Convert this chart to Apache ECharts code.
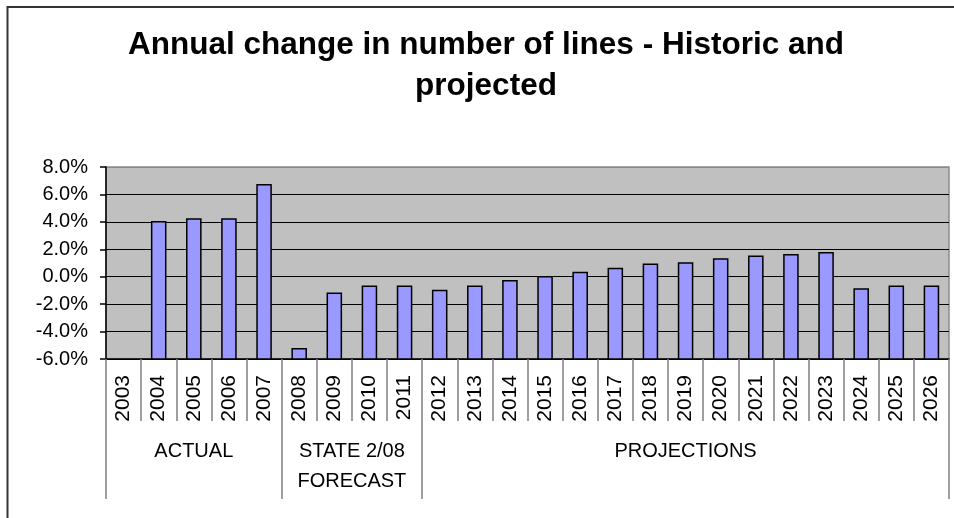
<!DOCTYPE html>
<html>
<head>
<meta charset="utf-8">
<script src="https://cdn.jsdelivr.net/npm/echarts@6/dist/echarts.min.js"></script>
<style>
  html, body { margin: 0; padding: 0; background: #fff; }
  #chart { width: 954px; height: 518px; }
</style>
</head>
<body>
<div id="chart"></div>
<script>
// Years on the category axis
var years = ['2003','2004','2005','2006','2007','2008','2009','2010','2011','2012','2013','2014',
             '2015','2016','2017','2018','2019','2020','2021','2022','2023','2024','2025','2026'];

// Annual change in number of lines, percent (no value for 2003)
var annualChange = [null, 4.0, 4.2, 4.2, 6.7, -5.25, -1.2, -0.7, -0.7, -1.0, -0.7, -0.3,
                    0.0, 0.3, 0.6, 0.9, 1.0, 1.3, 1.5, 1.6, 1.75, -0.9, -0.7, -0.7];

// Period groups under the years, with the number of years each spans
var groupNames = ['ACTUAL', 'STATE 2/08\nFORECAST', 'PROJECTIONS'];
var groupSizes = [5, 4, 15];

// Value axis ticks
var yMin = -6, yMax = 8, yStep = 2;

var FONT = '"Liberation Sans", Arial, sans-serif';

// Group boundaries and centres in category units
var groupEdges = [0], groupCentres = [];
groupSizes.forEach(function (n, i) {
  var start = groupEdges[i];
  groupEdges.push(start + n);
  groupCentres.push(start + n / 2);
});

var barData = [];
annualChange.forEach(function (v, i) {
  if (v !== null) barData.push([i, v]);
});

var chart = echarts.init(document.getElementById('chart'), null, { renderer: 'canvas' });

chart.setOption({
  animation: false,
  backgroundColor: '#ffffff',
  title: {
    text: 'Annual change in number of lines - Historic and\nprojected',
    left: 486,
    textAlign: 'center',
    top: 25,
    padding: 0,
    textStyle: {
      fontFamily: FONT,
      fontWeight: 'bold',
      fontSize: 31.5,
      lineHeight: 40.6,
      color: '#000'
    }
  },
  graphic: [{
    type: 'polyline',
    shape: { points: [[7.5, 518], [7.5, 7], [954, 7]] },
    style: { stroke: '#333', lineWidth: 2, fill: null },
    silent: true
  }],
  grid: {
    left: 106,
    right: 5,
    top: 167,
    bottom: 159,
    show: true,
    backgroundColor: '#C0C0C0',
    borderColor: '#8a8a8a',
    borderWidth: 1.5,
    containLabel: false,
    outerBoundsMode: 'none'
  },
  xAxis: [{
    type: 'category',
    data: years,
    position: 'bottom',
    boundaryGap: true,
    axisLine: { show: true, onZero: false, lineStyle: { color: '#000', width: 1.5 } },
    axisTick: { show: true, interval: 0, length: 62, lineStyle: { color: '#808080', width: 1.5 } },
    axisLabel: {
      interval: 0,
      rotate: 90,
      margin: 16,
      fontFamily: FONT,
      fontSize: 21,
      color: '#000'
    },
    splitLine: { show: false }
  }, {
    type: 'value',
    min: 0,
    max: years.length,
    position: 'bottom',
    axisLine: { show: false, onZero: false },
    axisTick: {
      show: true,
      customValues: groupEdges,
      length: 140,
      lineStyle: { color: '#808080', width: 1.5 }
    },
    axisLabel: {
      customValues: groupCentres,
      formatter: function (v) {
        var k = groupCentres.indexOf(v);
        return k >= 0 ? groupNames[k] : '';
      },
      margin: 77,
      fontFamily: FONT,
      fontSize: 20,
      lineHeight: 30,
      color: '#000',
      align: 'center'
    },
    splitLine: { show: false }
  }],
  yAxis: {
    type: 'value',
    min: yMin,
    max: yMax,
    interval: yStep,
    axisLine: { show: true, lineStyle: { color: '#000', width: 1.5 } },
    axisTick: { show: true, length: 6, lineStyle: { color: '#000', width: 1.5 } },
    axisLabel: {
      formatter: function (v) { return v.toFixed(1) + '%'; },
      margin: 18,
      fontFamily: FONT,
      fontSize: 20,
      color: '#000'
    },
    splitLine: {
      show: true,
      lineStyle: {
        color: ['#000', '#000', '#000', '#000', '#000', '#000', '#000', '#8a8a8a'],
        width: 1.2
      }
    }
  },
  series: [{
    type: 'custom',
    xAxisIndex: 0,
    yAxisIndex: 0,
    data: barData,
    encode: { x: 0, y: 1 },
    // Bars rise from the bottom of the value axis to each year's value
    renderItem: function (params, api) {
      var idx = api.value(0);
      var top = api.coord([idx, api.value(1)]);
      var base = api.coord([idx, yMin]);
      var w = api.size([1, 0])[0] * 0.4;
      return {
        type: 'rect',
        shape: { x: top[0] - w / 2, y: top[1], width: w, height: base[1] - top[1] },
        style: { fill: '#9999FF', stroke: '#000', lineWidth: 1.5 }
      };
    }
  }]
});
</script>
</body>
</html>
